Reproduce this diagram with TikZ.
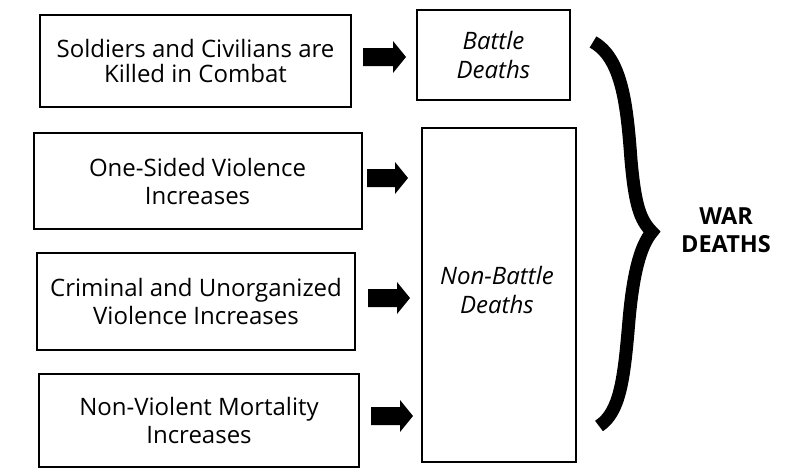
\documentclass[tikz,border=0pt]{standalone}
\usepackage{fontspec}
\setmainfont{Open Sans}
\usetikzlibrary{calc}
\tikzset{
  causebox/.style={draw, line width=2pt, align=center, inner sep=0pt,
    font=\fontsize{24}{28}\selectfont},
  deathbox/.style={draw, line width=2pt, align=center, inner sep=0pt,
    font=\fontsize{24}{29}\selectfont\itshape},
  bracestyle/.style={line width=13pt, line join=miter, line cap=butt},
}
\newcommand{\blockarr}[2]{\fill let \p1=(#1), \p2=(#2) in
  (\x1,\y1+9pt) -- (\x2-13pt,\y1+9pt) -- (\x2-13pt,\y1+16pt) -- (\x2,\y1)
  -- (\x2-13pt,\y1-16pt) -- (\x2-13pt,\y1-9pt) -- (\x1,\y1-9pt) -- cycle;}
\begin{document}
\begin{tikzpicture}[x=1pt, y=-1pt]
\useasboundingbox (0,0) rectangle (796,469);
% cause boxes
\node[causebox, minimum width=311pt, minimum height=92pt,
  font=\fontsize{24}{25}\selectfont] (b1) at (195.5,61)
  {Soldiers and Civilians are\\Killed in Combat};
\node[causebox, minimum width=328pt, minimum height=96pt] (b2) at (197.5,181)
  {One-Sided Violence\\Increases};
\node[causebox, minimum width=318pt, minimum height=97pt] (b3) at (196,301.5)
  {Criminal and Unorganized\\Violence Increases};
\node[causebox, minimum width=320pt, minimum height=93pt] (b4) at (199,420)
  {Non-Violent Mortality\\Increases};
% death boxes
\node[deathbox, minimum width=153pt, minimum height=90pt] (bd) at (493.5,55)
  {Battle\\Deaths};
\node[deathbox, minimum width=154pt, minimum height=334pt] (nb) at (499,295)
  {};
\node[font=\fontsize{24}{29}\selectfont\itshape, align=center] (nbt) at (497,290)
  {Non-Battle\\Deaths};
% arrows
\coordinate (a1s) at (363,57);  \coordinate (a1e) at (406,57);
\coordinate (a2s) at (367,178); \coordinate (a2e) at (408,178);
\coordinate (a3s) at (368,298); \coordinate (a3e) at (410,298);
\coordinate (a4s) at (371,416); \coordinate (a4e) at (413,416);
\blockarr{a1s}{a1e}
\blockarr{a2s}{a2e}
\blockarr{a3s}{a3e}
\blockarr{a4s}{a4e}
% brace
\coordinate (brtop) at (593,42);
\coordinate (brtip) at (652,232);
\coordinate (brbot) at (599,426);
\draw[bracestyle] (brtop) .. controls (622,58) and (627,105) .. (631,160)
  .. controls (635,205) and (640,220) .. (brtip)
  .. controls (640,246) and (633,275) .. (629,320)
  .. controls (624,380) and (620,412) .. (brbot);
% label
\node[font=\fontsize{23.5}{28}\selectfont\bfseries, align=center] (wd) at (726,230)
  {WAR\\DEATHS};
\end{tikzpicture}
\end{document}
